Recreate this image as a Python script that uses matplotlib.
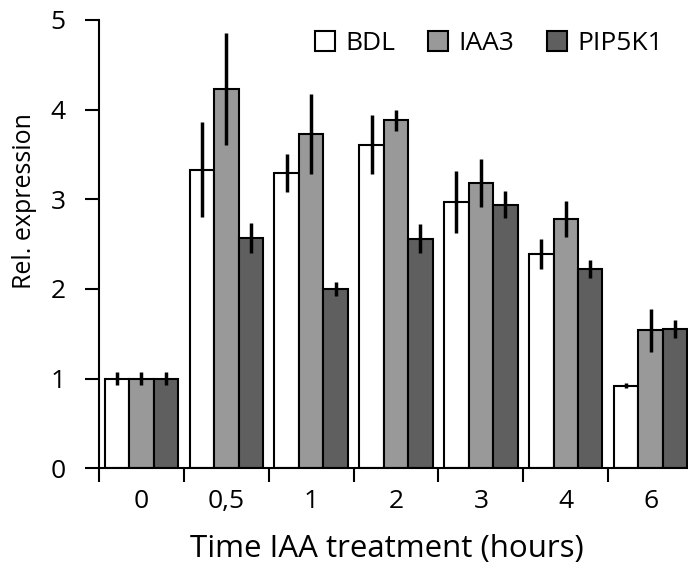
import matplotlib
matplotlib.use("Agg")
import matplotlib.pyplot as plt
import numpy as np

# time points (hours) and relative expression per gene
times = ["0", "0,5", "1", "2", "3", "4", "6"]
bdl = [1.0, 3.33, 3.29, 3.61, 2.97, 2.39, 0.92]
bdl_err = [0.07, 0.53, 0.21, 0.33, 0.35, 0.17, 0.03]
iaa3 = [1.0, 4.23, 3.73, 3.88, 3.18, 2.78, 1.54]
iaa3_err = [0.07, 0.62, 0.45, 0.12, 0.27, 0.20, 0.24]
pip5k1 = [1.0, 2.57, 2.0, 2.56, 2.94, 2.22, 1.55]
pip5k1_err = [0.07, 0.17, 0.08, 0.16, 0.15, 0.10, 0.10]

genes = ["BDL", "IAA3", "PIP5K1"]
colors = ["white", "#999999", "#5f5f5f"]

plt.rcParams["font.family"] = ["Open Sans", "DejaVu Sans"]


def main():
    fig = plt.figure(figsize=(6.88, 5.76), dpi=100)
    # axes run slightly past the right edge, like the cropped original
    ax = fig.add_axes([0.1439, 0.187, 0.8634, 0.7783])

    x = np.arange(len(times))
    width = 0.288
    series = [(bdl, bdl_err), (iaa3, iaa3_err), (pip5k1, pip5k1_err)]
    for i, (vals, errs) in enumerate(series):
        ax.bar(x + (i - 1) * width, vals, width, color=colors[i],
               edgecolor="black", linewidth=1.5, label=genes[i],
               yerr=errs, error_kw=dict(ecolor="black", elinewidth=2.5, capsize=0))

    ax.set_xlim(-0.5, len(times) - 0.5)
    ax.set_ylim(0, 5)
    ax.set_yticks([0, 1, 2, 3, 4, 5])

    # major ticks on group boundaries, labels on group centres
    ax.set_xticks(np.arange(-0.5, len(times) - 0.5, 1.0))
    ax.set_xticklabels([])
    ax.set_xticks(x, minor=True)
    ax.set_xticklabels(times, minor=True)
    ax.tick_params(axis="x", which="minor", length=0, pad=15, labelsize=19)
    ax.tick_params(axis="x", which="major", length=10, width=1.5)
    ax.tick_params(axis="y", length=10, width=1.5, pad=14, labelsize=19)

    for side in ["top", "right"]:
        ax.spines[side].set_visible(False)
    ax.spines["left"].set_linewidth(1.5)
    ax.spines["bottom"].set_linewidth(1.5)

    ax.set_ylabel("Rel. expression", fontsize=18)
    ax.yaxis.set_label_coords(-0.104, 0.595)
    ax.set_xlabel("Time IAA treatment (hours)", fontsize=22.5)
    ax.xaxis.set_label_coords(0.484, -0.147)

    ax.legend(loc="center left", bbox_to_anchor=(0.3636, 0.9476), ncol=3, frameon=False,
              fontsize=19, handlelength=0.75, handleheight=0.8, handletextpad=0.4,
              columnspacing=1.25, borderaxespad=0, borderpad=0)

    fig.savefig("out.png", dpi=100)


if __name__ == "__main__":
    main()
